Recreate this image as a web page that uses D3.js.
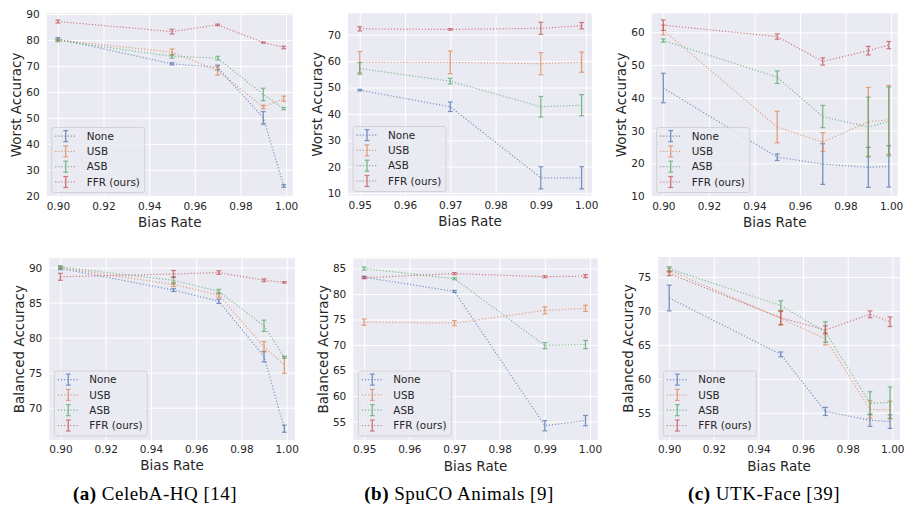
<!DOCTYPE html>
<html><head><meta charset="utf-8">
<script src="https://cdn.jsdelivr.net/npm/d3@7/dist/d3.min.js"></script>
<style>
html,body{margin:0;padding:0;background:#fff;}
svg{display:block;}
</style></head>
<body>
<svg id="chart" width="907" height="506"></svg>
<script>
// ---------------- DATA ----------------
const methods = ["None", "USB", "ASB", "FFR (ours)"];
const biasRates5 = [0.90, 0.95, 0.97, 0.99, 0.999];
const biasRates4 = [0.95, 0.97, 0.99, 0.999];

const xTicksWide = [0.90, 0.92, 0.94, 0.96, 0.98, 1.00];
const xTicksNarrow = [0.95, 0.96, 0.97, 0.98, 0.99, 1.00];

// (a) CelebA-HQ, worst accuracy  [None, USB, ASB, FFR]
const celebaWorstMean = [
  [80.4, 70.8, 69.4, 50.0, 23.8],
  [80.0, 75.3, 68.2, 54.2, 57.4],
  [79.8, 73.7, 73.0, 59.0, 53.6],
  [87.1, 83.2, 85.8, 79.0, 77.1]
];
const celebaWorstErr = [
  [0.5, 0.4, 0.9, 2.4, 0.5],
  [0.3, 1.2, 1.7, 0.7, 1.0],
  [0.5, 0.7, 0.7, 2.4, 0.4],
  [0.6, 0.9, 0.3, 0.2, 0.5]
];
const celebaWorstTicks = [20, 30, 40, 50, 60, 70, 80, 90];

// (b) SpuCO Animals, worst accuracy
const spucoWorstMean = [
  [49.0, 42.7, 15.8, 15.8],
  [59.6, 59.5, 59.0, 59.6],
  [57.2, 52.4, 42.7, 43.3],
  [72.2, 72.0, 72.4, 73.4]
];
const spucoWorstErr = [
  [0.3, 1.8, 4.2, 4.2],
  [4.0, 4.3, 4.2, 3.8],
  [2.2, 1.1, 3.9, 4.0],
  [0.8, 0.3, 2.3, 1.2]
];
const spucoWorstTicks = [10, 20, 30, 40, 50, 60, 70];

// (c) UTK-Face, worst accuracy
const utkWorstMean = [
  [43.0, 21.9, 19.8, 18.8, 19.1],
  [60.7, 31.1, 26.5, 32.7, 33.3],
  [57.5, 46.3, 34.3, 31.1, 32.8],
  [62.2, 58.7, 51.1, 54.4, 56.1]
];
const utkWorstErr = [
  [4.5, 1.0, 6.2, 6.1, 6.3],
  [1.5, 4.8, 2.9, 10.5, 10.5],
  [0.5, 1.9, 3.4, 9.1, 10.5],
  [1.6, 0.8, 1.1, 1.3, 1.1]
];
const utkWorstTicks = [10, 20, 30, 40, 50, 60];

// (a) CelebA-HQ, balanced accuracy
const celebaBalMean = [
  [89.9, 86.8, 85.2, 77.3, 67.0],
  [90.0, 87.6, 86.1, 78.7, 76.1],
  [90.1, 88.2, 86.6, 81.7, 77.2],
  [88.7, 89.1, 89.3, 88.2, 87.9]
];
const celebaBalErr = [
  [0.2, 0.2, 0.3, 0.75, 0.5],
  [0.1, 0.3, 0.3, 0.75, 1.2],
  [0.2, 0.5, 0.3, 0.8, 0.15],
  [0.5, 0.5, 0.25, 0.2, 0.1]
];
const celebaBalTicks = [70, 75, 80, 85, 90];

// (b) SpuCO Animals, balanced accuracy
const spucoBalMean = [
  [83.3, 80.5, 54.2, 55.2],
  [74.5, 74.3, 76.8, 77.2],
  [85.0, 83.0, 69.9, 70.1],
  [83.2, 84.0, 83.4, 83.5]
];
const spucoBalErr = [
  [0.2, 0.2, 1.0, 1.0],
  [0.6, 0.5, 0.7, 0.6],
  [0.3, 0.2, 0.6, 0.8],
  [0.2, 0.2, 0.2, 0.3]
];
const spucoBalTicks = [55, 60, 65, 70, 75, 80, 85];

// (c) UTK-Face, balanced accuracy
const utkBalMean = [
  [71.9, 63.6, 55.2, 53.9, 53.7],
  [76.0, 68.9, 65.9, 55.5, 55.4],
  [76.2, 70.8, 66.9, 56.4, 56.5],
  [75.5, 69.0, 67.2, 69.5, 68.4]
];
const utkBalErr = [
  [1.9, 0.35, 0.6, 0.9, 1.0],
  [0.3, 1.0, 0.9, 1.3, 1.3],
  [0.3, 0.7, 1.5, 1.7, 2.3],
  [0.3, 1.0, 0.6, 0.5, 0.7]
];
const utkBalTicks = [55, 60, 65, 70, 75];

const captions = [
  {bold: "(a)", rest: " CelebA-HQ [14]"},
  {bold: "(b)", rest: " SpuCO Animals [9]"},
  {bold: "(c)", rest: " UTK-Face [39]"}
];

// ---------------- STYLE / LAYOUT ----------------
const colors = ["#4C72B0", "#DD8452", "#55A868", "#C44E52"];
const textColor = "#262626";

const panels = [
  {x0: 46.7, x1: 292.7, y0: 13.3, y1: 196.5, xd: [0.8951, 1.0029], yd: [19.75, 90.25],
   xs: biasRates5, xt: xTicksWide, yt: celebaWorstTicks, mean: celebaWorstMean, err: celebaWorstErr, ylab: "Worst Accuracy"},
  {x0: 348, x1: 592, y0: 13.3, y1: 195.5, xd: [0.9474, 1.0013], yd: [9.1, 78.1],
   xs: biasRates4, xt: xTicksNarrow, yt: spucoWorstTicks, mean: spucoWorstMean, err: spucoWorstErr, ylab: "Worst Accuracy"},
  {x0: 651.7, x1: 897.7, y0: 13.3, y1: 196.5, xd: [0.8949, 1.0029], yd: [9.9, 65.8],
   xs: biasRates5, xt: xTicksWide, yt: utkWorstTicks, mean: utkWorstMean, err: utkWorstErr, ylab: "Worst Accuracy"},
  {x0: 49.3, x1: 295, y0: 258.3, y1: 440, xd: [0.8951, 1.0037], yd: [65.39, 91.34],
   xs: biasRates5, xt: xTicksWide, yt: celebaBalTicks, mean: celebaBalMean, err: celebaBalErr, ylab: "Balanced Accuracy"},
  {x0: 353.3, x1: 597.7, y0: 258.5, y1: 440, xd: [0.9476, 1.0017], yd: [51.4, 86.96],
   xs: biasRates4, xt: xTicksNarrow, yt: spucoBalTicks, mean: spucoBalMean, err: spucoBalErr, ylab: "Balanced Accuracy"},
  {x0: 658.3, x1: 900, y0: 257, y1: 440, xd: [0.8951, 1.00345], yd: [50.99, 77.94],
   xs: biasRates5, xt: xTicksWide, yt: utkBalTicks, mean: utkBalMean, err: utkBalErr, ylab: "Balanced Accuracy"}
];

const svg = d3.select("#chart");
const font = "'DejaVu Sans', sans-serif";

panels.forEach(p => {
  const w = p.x1 - p.x0, h = p.y1 - p.y0;
  const x = d3.scaleLinear().domain(p.xd).range([0, w]);
  const y = d3.scaleLinear().domain(p.yd).range([h, 0]);
  const g = svg.append("g").attr("transform", `translate(${p.x0},${p.y0})`);

  g.append("rect").attr("width", w).attr("height", h).attr("fill", "#EAEAF2");

  // grid
  const gx = g.append("g").attr("transform", `translate(0,${h})`)
    .call(d3.axisBottom(x).tickValues(p.xt).tickSize(-h).tickFormat(""));
  const gy = g.append("g")
    .call(d3.axisLeft(y).tickValues(p.yt).tickSize(-w).tickFormat(""));
  [gx, gy].forEach(a => {
    a.select(".domain").remove();
    a.selectAll("line").attr("stroke", "#ffffff").attr("stroke-width", 1);
  });

  // series
  const line = d3.line().x(d => x(d[0])).y(d => y(d[1]));
  p.mean.forEach((ser, i) => {
    const pts = p.xs.map((xv, j) => [xv, ser[j], p.err[i][j]]);
    const sg = g.append("g");
    sg.append("path").attr("d", line(pts)).attr("fill", "none")
      .attr("stroke", colors[i]).attr("stroke-width", 1.2).attr("stroke-opacity", 0.7)
      .attr("stroke-dasharray", "1.2,1.9");
    pts.forEach(d => {
      const cx = x(d[0]), ylo = y(d[1] - d[2]), yhi = y(d[1] + d[2]);
      const eb = sg.append("g").attr("opacity", 0.75);
      eb.append("line").attr("x1", cx).attr("x2", cx).attr("y1", ylo).attr("y2", yhi)
        .attr("stroke", colors[i]).attr("stroke-width", 1.3);
      [ylo, yhi].forEach(yy => eb.append("line")
        .attr("x1", cx - 2.4).attr("x2", cx + 2.4).attr("y1", yy).attr("y2", yy)
        .attr("stroke", colors[i]).attr("stroke-width", 1.2));
    });
  });

  // tick labels
  const ax = g.append("g").attr("transform", `translate(0,${h})`)
    .call(d3.axisBottom(x).tickValues(p.xt).tickSize(0).tickPadding(6).tickFormat(d3.format(".2f")));
  const ay = g.append("g")
    .call(d3.axisLeft(y).tickValues(p.yt).tickSize(0).tickPadding(7).tickFormat(d3.format("d")));
  [ax, ay].forEach(a => {
    a.select(".domain").remove();
    a.selectAll("text").attr("fill", textColor).attr("font-family", font).attr("font-size", 10.5);
  });

  // axis labels
  g.append("text").attr("x", w / 2).attr("y", h + 30.5).attr("text-anchor", "middle")
    .attr("font-family", font).attr("font-size", 13.5).attr("fill", textColor).text("Bias Rate");
  g.append("text").attr("transform", `translate(-30.5,${h / 2}) rotate(-90)`)
    .attr("text-anchor", "middle").attr("dy", "0.35em")
    .attr("font-family", font).attr("font-size", 13.5).attr("fill", textColor).text(p.ylab);

  // legend
  const lw = 93, lh = 65;
  const lg = g.append("g").attr("transform", `translate(5,${h - 4 - lh})`);
  lg.append("rect").attr("width", lw).attr("height", lh).attr("rx", 2.5)
    .attr("fill", "#EAEAF2").attr("fill-opacity", 0.8)
    .attr("stroke", "#cccccc").attr("stroke-width", 0.8);
  methods.forEach((m, i) => {
    const ry = 8.6 + i * 15.3;
    const eg = lg.append("g").attr("opacity", 0.75);
    eg.append("line").attr("x1", 3.5).attr("x2", 25).attr("y1", ry).attr("y2", ry)
      .attr("stroke", colors[i]).attr("stroke-width", 1.2).attr("stroke-dasharray", "1.2,1.9");
    eg.append("line").attr("x1", 14).attr("x2", 14).attr("y1", ry - 5.5).attr("y2", ry + 5.5)
      .attr("stroke", colors[i]).attr("stroke-width", 1.3);
    [ry - 5.5, ry + 5.5].forEach(yy => eg.append("line").attr("x1", 11.6).attr("x2", 16.4)
      .attr("y1", yy).attr("y2", yy).attr("stroke", colors[i]).attr("stroke-width", 1.2));
    lg.append("text").attr("x", 35).attr("y", ry).attr("dy", "0.35em")
      .attr("font-family", font).attr("font-size", 10.4).attr("fill", textColor).text(m);
  });
});

// captions
const capX = [155, 459, 764];
captions.forEach((c, i) => {
  const t = svg.append("text").attr("x", capX[i]).attr("y", 500).attr("text-anchor", "middle")
    .attr("font-family", "'Liberation Serif', 'DejaVu Serif', serif").attr("font-size", 19)
    .attr("letter-spacing", 0.5).attr("fill", "#000");
  t.append("tspan").attr("font-weight", "bold").text(c.bold);
  t.append("tspan").text(c.rest);
});
</script>
</body></html>
